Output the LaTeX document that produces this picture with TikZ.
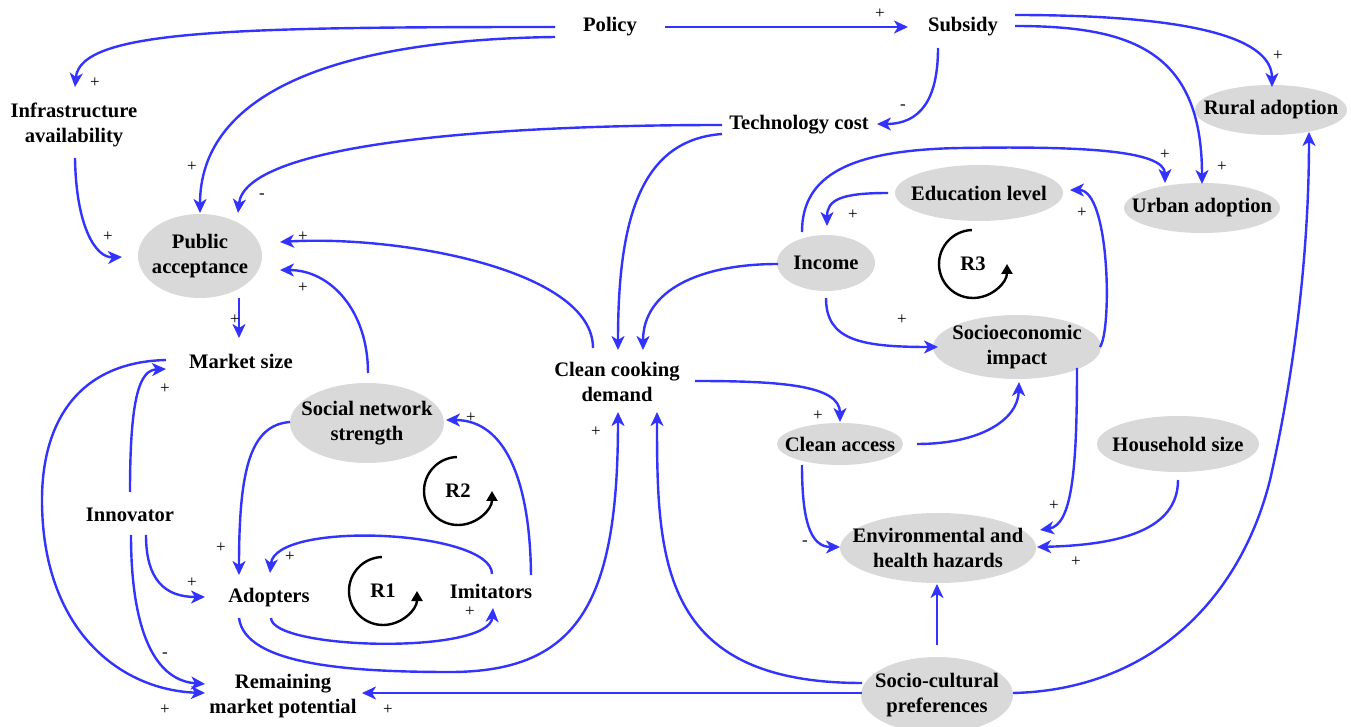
\documentclass[tikz,border=0pt]{standalone}
\usepackage{fontspec}
\setmainfont{Liberation Serif}
\usetikzlibrary{arrows.meta,backgrounds}
\definecolor{cblue}{RGB}{51,51,255}
\definecolor{ellf}{RGB}{217,217,217}
\begin{document}
\begin{tikzpicture}[x=0.5pt,y=-0.5pt,
 txt/.style={font=\bfseries\fontsize{10.3}{12.5}\selectfont, align=center, inner sep=0pt, text=black},
 sgn/.style={font=\fontsize{8.5}{9}\selectfont, inner sep=0pt},
 arr/.style={draw=cblue, line width=1.2pt, -{Stealth[length=7pt,width=6.5pt,inset=2pt]}},
 loopc/.style={draw=black, line width=1.2pt, -{Triangle[length=5pt,width=5.5pt]}},
 ellbg/.style={fill=ellf}
]
\useasboundingbox (0,0) rectangle (1351,727);

% nodes
\node[txt] (policy) at (610,27) {Policy};
\node[txt] (subsidy) at (963,27) {Subsidy};
\node[txt] (infra) at (74,125) {Infrastructure\\availability};
\node[txt] (tech) at (799,125) {Technology cost};
\node[txt] (rural) at (1271,110) {Rural adoption};
\node[txt] (urban) at (1202,208) {Urban adoption};
\node[txt] (edu) at (979,193) {Education level};
\node[txt] (pa) at (200,256) {Public\\acceptance};
\node[txt] (income) at (826,263) {Income};
\node[txt] (market) at (241,361) {Market size};
\node[txt] (socio) at (1017,347) {Socioeconomic\\impact};
\node[txt] (ccd) at (617,382) {Clean cooking\\demand};
\node[txt] (sns) at (367,423) {Social network\\strength};
\node[txt] (access) at (840,444) {Clean access};
\node[txt] (house) at (1178,444) {Household size};
\node[txt] (innov) at (130,515) {Innovator};
\node[txt] (env) at (938,548) {Environmental and\\health hazards};
\node[txt] (adopt) at (269,598) {Adopters};
\node[txt] (imit) at (491,591) {Imitators};
\node[txt] (rmp) at (283,696) {Remaining\\market potential};
\node[txt] (scp) at (937,695) {Socio-cultural\\preferences};

\begin{pgfonlayer}{background}
\fill[white] (0,0) rectangle (1351,727);
\fill[ellbg] (rural.center) ellipse[x radius=38pt, y radius=12.5pt];
\fill[ellbg] (urban.center) ellipse[x radius=39pt, y radius=12.5pt];
\fill[ellbg] (edu.center) ellipse[x radius=42pt, y radius=14pt];
\fill[ellbg] (pa.center) ellipse[x radius=31pt, y radius=21pt];
\fill[ellbg] (income.center) ellipse[x radius=24.5pt, y radius=14pt];
\fill[ellbg] (socio.center) ellipse[x radius=42pt, y radius=16pt];
\fill[ellbg] (sns.center) ellipse[x radius=38.5pt, y radius=20pt];
\fill[ellbg] (access.center) ellipse[x radius=31.5pt, y radius=10.5pt];
\fill[ellbg] (house.center) ellipse[x radius=40.5pt, y radius=14pt];
\fill[ellbg] (env.center) ellipse[x radius=49pt, y radius=17.5pt];
\fill[ellbg] (scp.center) ellipse[x radius=38pt, y radius=19pt];
\end{pgfonlayer}

% loop markers
\node[txt] (r1) at (383,591) {R1};
\node[txt] (r2) at (458,491) {R2};
\node[txt] (r3) at (973,264) {R3};
\draw[loopc] ([shift={(92:17pt)}]r1.center) arc[start angle=92, end angle=360, radius=17pt];
\draw[loopc] ([shift={(92:17pt)}]r2.center) arc[start angle=92, end angle=360, radius=17pt];
\draw[loopc] ([shift={(92:17pt)}]r3.center) arc[start angle=92, end angle=360, radius=17pt];

% connectors
\draw[arr] ([shift={(55,0)}]policy.center) -- ([shift={(-55,0)}]subsidy.center);
\draw[arr] ([shift={(-55,0)}]policy.center) .. controls (230,27) and (80,30) .. ([shift={(1,-38)}]infra.center);
\draw[arr] ([shift={(-55,10)}]policy.center) .. controls (320,40) and (200,100) .. ([shift={(0,-43)}]pa.center);
\draw[arr] ([shift={(-77,0)}]tech.center) .. controls (480,125) and (245,145) .. ([shift={(38,-43)}]pa.center);
\draw[arr] ([shift={(-25,21)}]subsidy.center) .. controls (938,100) and (920,124) .. ([shift={(78,-1)}]tech.center);
\draw[arr] ([shift={(52,-12)}]subsidy.center) .. controls (1200,15) and (1272,40) .. ([shift={(1,-23)}]rural.center);
\draw[arr] ([shift={(52,-1)}]subsidy.center) .. controls (1130,26) and (1202,50) .. ([shift={(0,-24)}]urban.center);
\draw[arr] ([shift={(1,33)}]infra.center) .. controls (76,225) and (95,258) .. ([shift={(-78,1)}]pa.center);
\draw[arr] ([shift={(-77,9)}]tech.center) .. controls (640,140) and (618,220) .. ([shift={(1,-32)}]ccd.center);
\draw[arr] ([shift={(-48,1)}]income.center) .. controls (700,264) and (643,290) .. ([shift={(26,-32)}]ccd.center);
\draw[arr] ([shift={(-24,-34)}]ccd.center) .. controls (593,270) and (400,235) .. ([shift={(80,-14)}]pa.center);
\draw[arr] ([shift={(1,-50)}]sns.center) .. controls (368,310) and (330,270) .. ([shift={(80,14)}]pa.center);
\draw[arr] ([shift={(39,42)}]pa.center) -- ([shift={(-2,-23)}]market.center);
\draw[arr] ([shift={(-75,-1)}]market.center) .. controls (80,362) and (42,420) .. (42,500) .. controls (42,630) and (120,690) .. ([shift={(-78,-3)}]rmp.center);
\draw[arr] ([shift={(0,-23)}]innov.center) .. controls (130,395) and (140,370) .. ([shift={(-75,8)}]market.center);
\draw[arr] ([shift={(16,20)}]innov.center) .. controls (146,580) and (165,597) .. ([shift={(-64,-1)}]adopt.center);
\draw[arr] ([shift={(1,20)}]innov.center) .. controls (131,620) and (150,680) .. ([shift={(-78,-12)}]rmp.center);
\draw[arr] ([shift={(-77,-1)}]sns.center) .. controls (250,425) and (239,470) .. ([shift={(-30,-23)}]adopt.center);
\draw[arr] ([shift={(1,-17)}]imit.center) .. controls (492,530) and (275,520) .. ([shift={(1,-25)}]adopt.center);
\draw[arr] ([shift={(2,20)}]adopt.center) .. controls (272,650) and (490,655) .. ([shift={(2,17)}]imit.center);
\draw[arr] ([shift={(40,-16)}]imit.center) .. controls (530,480) and (505,420) .. ([shift={(79,-3)}]sns.center);
\draw[arr] ([shift={(-30,20)}]adopt.center) .. controls (245,665) and (350,672) .. (450,672) .. controls (580,672) and (618,600) .. ([shift={(1,30)}]ccd.center);
\draw[arr] ([shift={(-75,-12)}]scp.center) .. controls (660,683) and (657,560) .. ([shift={(40,30)}]ccd.center);
\draw[arr] ([shift={(-75,-2)}]scp.center) -- ([shift={(79,-3)}]rmp.center);
\draw[arr] ([shift={(0,-50)}]scp.center) -- ([shift={(-1,36)}]env.center);
\draw[arr] ([shift={(76,-2)}]scp.center) .. controls (1150,690) and (1240,600) .. (1270,480) .. controls (1295,370) and (1309,250) .. ([shift={(38,22)}]rural.center);
\draw[arr] ([shift={(-24,-31)}]income.center) .. controls (802,175) and (850,150) .. (960,148) .. controls (1080,146) and (1165,150) .. ([shift={(-37,-25)}]urban.center);
\draw[arr] ([shift={(-91,0)}]edu.center) .. controls (840,193) and (827,200) .. ([shift={(1,-37)}]income.center);
\draw[arr] ([shift={(0,35)}]income.center) .. controls (826,340) and (860,347) .. ([shift={(-79,0)}]socio.center);
\draw[arr] ([shift={(83,0)}]socio.center) .. controls (1112,330) and (1110,190) .. ([shift={(91,-3)}]edu.center);
\draw[arr] ([shift={(78,-1)}]ccd.center) .. controls (780,381) and (840,385) .. ([shift={(0,-22)}]access.center);
\draw[arr] ([shift={(77,0)}]access.center) .. controls (980,444) and (1018,420) .. ([shift={(2,35)}]socio.center);
\draw[arr] ([shift={(-38,21)}]access.center) .. controls (802,520) and (810,547) .. ([shift={(-98,-1)}]env.center);
\draw[arr] ([shift={(60,21)}]socio.center) .. controls (1077,470) and (1072,525) .. ([shift={(102,-18)}]env.center);
\draw[arr] ([shift={(0,36)}]house.center) .. controls (1178,530) and (1120,545) .. ([shift={(99,-1)}]env.center);

% polarity labels
\node[sgn] (l1) at (880,14) {+};
\node[sgn] (l2) at (95,83) {+};
\node[sgn] (l3) at (192,167) {+};
\node[sgn] (l4) at (262,196) {-};
\node[sgn] (l5) at (903,107) {-};
\node[sgn] (l6) at (1278,56) {+};
\node[sgn] (l7) at (1222,167) {+};
\node[sgn] (l8) at (108,237) {+};
\node[sgn] (l11) at (303,237) {+};
\node[sgn] (l12) at (303,288) {+};
\node[sgn] (l13) at (235,320) {+};
\node[sgn] (l14) at (165,710) {+};
\node[sgn] (l15) at (165,389) {+};
\node[sgn] (l16) at (192,583) {+};
\node[sgn] (l17) at (165,655) {-};
\node[sgn] (l18) at (221,548) {+};
\node[sgn] (l19) at (290,557) {+};
\node[sgn] (l20) at (470,612) {+};
\node[sgn] (l21) at (471,418) {+};
\node[sgn] (l22) at (596,432) {+};
\node[sgn] (l24) at (388,710) {+};
\node[sgn] (l27) at (1165,155) {+};
\node[sgn] (l28) at (853,215) {+};
\node[sgn] (l29) at (902,320) {+};
\node[sgn] (l30) at (1082,213) {+};
\node[sgn] (l31) at (818,416) {+};
\node[sgn] (l33) at (805,543) {-};
\node[sgn] (l34) at (1054,506) {+};
\node[sgn] (l35) at (1076,562) {+};
\end{tikzpicture}
\end{document}
